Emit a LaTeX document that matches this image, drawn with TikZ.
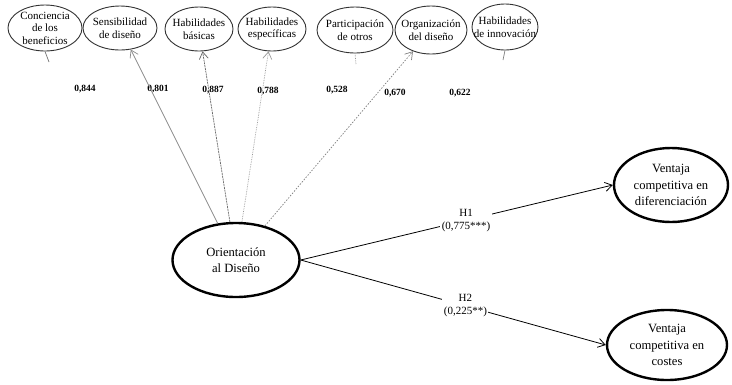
\documentclass[tikz,border=0pt]{standalone}
\usepackage{fontspec}
\setmainfont{Liberation Serif}
\usetikzlibrary{shapes.geometric,arrows.meta}
\begin{document}
\begin{tikzpicture}[x=1pt,y=-1pt,
  small/.style={ellipse,draw=black!80,line width=0.9pt,inner sep=0pt},
  smalltxt/.style={align=center,inner sep=0pt,font=\fontsize{11}{12.5}\selectfont},
  big/.style={ellipse,draw=black,line width=2.4pt,inner sep=0pt},
  bigtxt/.style={align=center,inner sep=0pt,font=\fontsize{12.6}{16.5}\selectfont},
  load/.style={inner sep=1pt,font=\bfseries\fontsize{9.5}{11}\selectfont},
  hyp/.style={fill=white,align=center,inner sep=1.5pt,font=\fontsize{11}{13}\selectfont},
  arr/.style={-{Straight Barb[length=7pt,width=9pt]},line width=0.8pt},
  ld/.style={-{Straight Barb[length=7pt,width=9pt]},line width=0.7pt}
]
\useasboundingbox[fill=white] (0,0) rectangle (732,384);

% top row of small ellipses
\node[small,minimum width=74pt,minimum height=46pt] (c1) at (45,28) {};
\node[smalltxt] (t1) at (c1) {Conciencia\\de los\\beneficios};
\node[small,minimum width=74pt,minimum height=44pt] (c2) at (120,28) {};
\node[smalltxt] (t2) at (c2) {Sensibilidad\\de diseño};
\node[small,minimum width=68pt,minimum height=44pt] (c3) at (199,29) {};
\node[smalltxt] (t3) at (c3) {Habilidades\\básicas};
\node[small,minimum width=68pt,minimum height=44pt] (c4) at (272,29) {};
\node[smalltxt] (t4) at (c4) {Habilidades\\específicas};
\node[small,minimum width=76pt,minimum height=46pt] (c5) at (355,30) {};
\node[smalltxt] (t5) at (c5) {Participación\\de otros};
\node[small,minimum width=72pt,minimum height=48pt] (c6) at (431,30) {};
\node[smalltxt] (t6) at (c6) {Organización\\del diseño};
\node[small,minimum width=66pt,minimum height=46pt] (c7) at (505,27) {};
\node[smalltxt] (t7) at (c7) {Habilidades\\de innovación};

% large ellipses
\node[big,minimum width=127pt,minimum height=74pt] (od) at (236,260) {};
\node[bigtxt] (tod) at (od) {Orientación\\al Diseño};
\node[big,minimum width=114pt,minimum height=74pt] (vd) at (671,185) {};
\node[bigtxt] (tvd) at (vd) {Ventaja\\competitiva en\\diferenciación};
\node[big,minimum width=120pt,minimum height=70pt] (vc) at (667,345) {};
\node[bigtxt] (tvc) at (vc) {Ventaja\\competitiva en\\costes};

% loadings
\node[load] (l1) at (85,89) {0,844};
\node[load] (l2) at (158,89) {0,801};
\node[load] (l3) at (213,90) {0,887};
\node[load] (l4) at (268,91) {0,788};
\node[load] (l5) at (337,90) {0,528};
\node[load] (l6) at (395,93) {0,670};
\node[load] (l7) at (460,93) {0,622};

% loading connectors
\draw[ld,draw=black!45] (od) -- (c2);
\draw[ld,draw=black!60,dash pattern=on 2pt off 0.8pt] (od) -- (c3);
\draw[ld,draw=black!40,densely dotted] (od) -- (c4);
\draw[ld,draw=black!50,dash pattern=on 1.5pt off 1.5pt] (od) -- (c6);

% short stubs
\coordinate (s1) at (49,62);
\coordinate (s5) at (356,64);
\coordinate (s7) at (503,60);
\draw[black!55,line width=0.7pt] (s1) -- (c1.south);
\draw[black!45,line width=0.7pt,densely dotted] (s5) -- (c5.south);
\draw[black!50,line width=0.7pt] (s7) -- (c7.south);

% hypotheses
\draw[arr] (od.east) -- node[hyp,pos=0.53] (h1) {H1\\(0,775***)} (vd.west);
\draw[arr] (od.east) -- node[hyp,pos=0.54] (h2) {H2\\(0,225**)} (vc.west);
\end{tikzpicture}
\end{document}
